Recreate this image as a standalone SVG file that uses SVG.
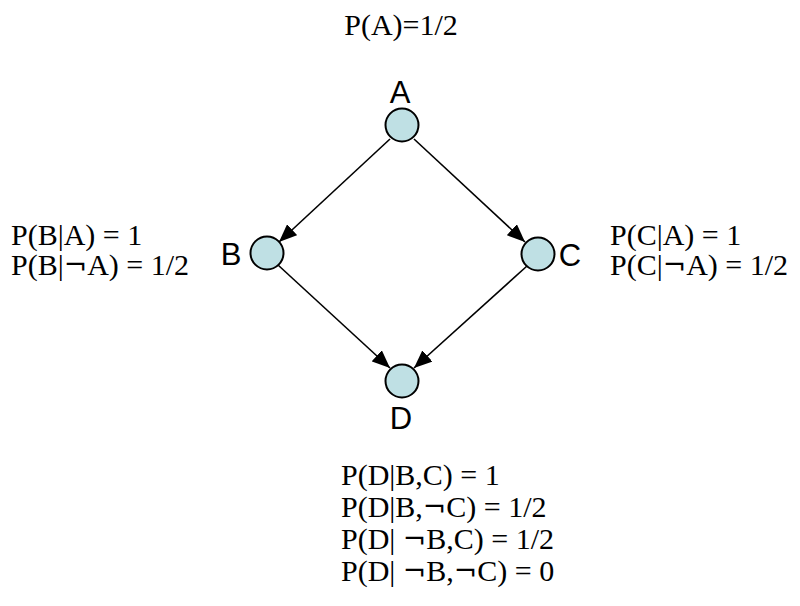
<svg xmlns="http://www.w3.org/2000/svg" width="800" height="606" viewBox="0 0 800 606">
<style>
.node{fill:#bfe0e4;stroke:#000;stroke-width:2}
.lbl{font-family:"Liberation Sans",Arial,sans-serif;font-size:31px;fill:#000}
.cpt{font-family:"Liberation Serif","Times New Roman",serif;font-size:30px;fill:#000}
.neg{font-family:"DejaVu Serif",serif;font-size:28px}
.edge{stroke:#000;stroke-width:1.6;fill:none;marker-end:url(#arr)}
</style>
<defs>
<marker id="arr" viewBox="0 0 18 15" refX="18" refY="7.5" markerWidth="18" markerHeight="15" markerUnits="userSpaceOnUse" orient="auto">
<path d="M0,0 L18,7.5 L0,15 z" fill="#000"/>
</marker>
</defs>
<rect width="800" height="606" fill="#fff"/>
<g id="connectors">
<line class="edge" x1="390" y1="139" x2="279" y2="242"/>
<line class="edge" x1="414" y1="139" x2="525" y2="242"/>
<line class="edge" x1="278" y1="265" x2="390" y2="368"/>
<line class="edge" x1="527" y1="266" x2="414" y2="368"/>
</g>
<g id="node-A">
<circle class="node" cx="402" cy="125" r="16.5"/>
<text class="lbl" x="400" y="103" text-anchor="middle">A</text>
<text class="cpt" x="401" y="35" text-anchor="middle">P(A)=1/2</text>
</g>
<g id="node-B">
<circle class="node" cx="267" cy="253" r="16.5"/>
<text class="lbl" x="231" y="265" text-anchor="middle">B</text>
<text class="cpt" x="11" y="245">P(B|A) = 1</text>
<text class="cpt" x="11" y="275">P(B|<tspan class="neg">¬</tspan>A) = 1/2</text>
</g>
<g id="node-C">
<circle class="node" cx="538" cy="254" r="16.5"/>
<text class="lbl" x="570" y="266" text-anchor="middle">C</text>
<text class="cpt" x="610" y="245">P(C|A) = 1</text>
<text class="cpt" x="610" y="275">P(C|<tspan class="neg">¬</tspan>A) = 1/2</text>
</g>
<g id="node-D">
<circle class="node" cx="402" cy="381" r="16.5"/>
<text class="lbl" x="401" y="429" text-anchor="middle">D</text>
<text class="cpt" x="341" y="485">P(D|B,C) = 1</text>
<text class="cpt" x="341" y="517">P(D|B,<tspan class="neg">¬</tspan>C) = 1/2</text>
<text class="cpt" x="341" y="549">P(D| <tspan class="neg">¬</tspan>B,C) = 1/2</text>
<text class="cpt" x="341" y="581">P(D| <tspan class="neg">¬</tspan>B,<tspan class="neg">¬</tspan>C) = 0</text>
</g>
</svg>
